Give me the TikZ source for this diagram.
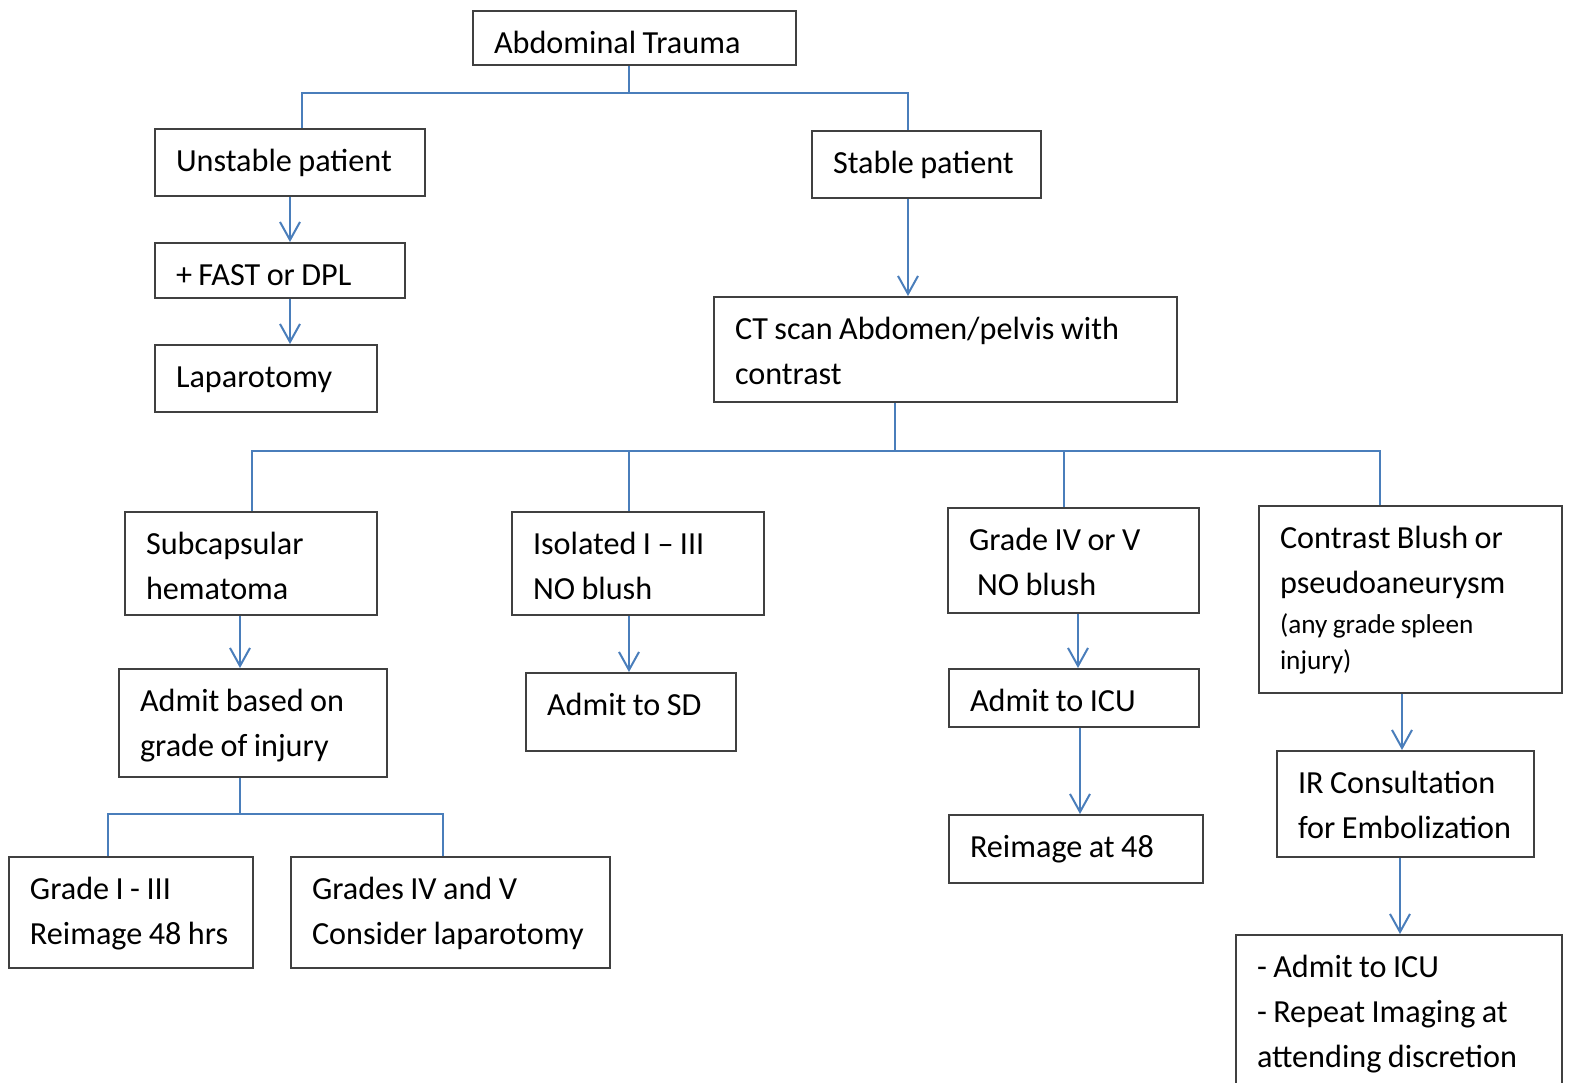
\documentclass[tikz,border=0pt]{standalone}
\usepackage{fontspec}
\setmainfont{Carlito}
\usetikzlibrary{arrows.meta}
\definecolor{boxgray}{HTML}{404040}
\definecolor{linkblue}{HTML}{4A7EBB}
\newcommand\lne[1]{\mbox{#1}}
\newcommand\tightsp{\spaceskip=0.2em plus 0.1em minus 0.03em\relax}
\newcommand\bx[6]{%
 \pgfmathsetmacro\bw{(#4-#2)/2}%
 \pgfmathsetmacro\bh{(#5-#3)/2}%
 \pgfmathsetmacro\tw{\bw-21}%
 \node[box] (#1) at (#2,#3) {\parbox[c][\bh pt][t]{\tw pt}{\tightsp\rule{0pt}{21pt}#6}};}
\tikzset{
 box/.style={draw=boxgray, line width=1pt, anchor=north west, inner xsep=10.5pt, inner ysep=0pt, font=\fontsize{16.1}{22.5}\selectfont},
 conn/.style={draw=linkblue, line width=1pt},
 arr/.style={conn, -{Straight Barb[length=9pt,width=10pt]}}
}
\begin{document}
\begin{tikzpicture}[x=0.5pt,y=-0.5pt]
\useasboundingbox (0,0) rectangle (1571,1083);
\bx{abd}{472}{10}{795}{64}{\lne{Abdominal Trauma}}
\bx{unst}{154}{128}{424}{195}{\lne{Unstable patient}}
\bx{stab}{811}{130}{1040}{197}{\lne{Stable patient}}
\bx{fast}{154}{242}{404}{297}{\lne{+ FAST or DPL}}
\bx{lap}{154}{344}{376}{411}{\lne{Laparotomy}}
\bx{ct}{713}{296}{1176}{401}{\lne{CT scan Abdomen/pelvis with}\\\lne{contrast}}
\bx{sub}{124}{511}{376}{614}{\lne{Subcapsular}\\\lne{hematoma}}
\bx{iso}{511}{511}{763}{614}{\lne{Isolated I – III}\\\lne{NO blush}}
\bx{gfv}{947}{507}{1198}{612}{\lne{Grade IV or V}\\\lne{\hspace*{4pt}NO blush}}
\bx{blush}{1258}{505}{1561}{692}{\lne{Contrast Blush or}\\\lne{pseudoaneurysm}\par\vspace{2pt}\fontsize{13.6}{18}\selectfont\tightsp\lne{(any grade spleen}\\\lne{injury)}}
\bx{adm}{118}{668}{386}{776}{\lne{Admit based on}\\\lne{grade of injury}}
\bx{sd}{525}{672}{735}{750}{\lne{Admit to SD}}
\bx{icu}{948}{668}{1198}{726}{\lne{Admit to ICU}}
\bx{reim}{948}{814}{1202}{882}{\lne{Reimage at 48}}
\bx{ir}{1276}{750}{1533}{856}{\lne{IR Consultation}\\\lne{for Embolization}}
\bx{got}{8}{856}{252}{967}{\lne{Grade I - III}\\\lne{Reimage 48 hrs}}
\bx{gfvb}{290}{856}{609}{967}{\lne{Grades IV and V}\\\lne{Consider laparotomy}}
\bx{fin}{1235}{934}{1561}{1092}{\lne{- Admit to ICU}\\\lne{- Repeat Imaging at}\\\lne{attending discretion}}
% top tree
\coordinate (t1) at (629,93);
\coordinate (t1l) at (302,93);
\coordinate (t1r) at (908,93);
\draw[conn] (abd.south -| t1) -- (t1);
\draw[conn] (t1l |- unst.north) -- (t1l) -- (t1r) -- (t1r |- stab.north);
\draw[arr] (unst.south -| 290,0) -- (fast.north -| 290,0);
\draw[arr] (fast.south -| 290,0) -- (lap.north -| 290,0);
\draw[arr] (stab.south -| 908,0) -- (ct.north -| 908,0);
% CT tree
\coordinate (t2) at (895,451);
\coordinate (t2l) at (252,451);
\coordinate (t2r) at (1380,451);
\draw[conn] (ct.south -| t2) -- (t2);
\draw[conn] (t2l |- sub.north) -- (t2l) -- (t2r) -- (t2r |- blush.north);
\draw[conn] (iso.north -| 629,0) -- (629,0 |- t2);
\draw[conn] (gfv.north -| 1064,0) -- (1064,0 |- t2);
\draw[arr] (sub.south -| 240,0) -- (adm.north -| 240,0);
\draw[arr] (iso.south -| 629,0) -- (sd.north -| 629,0);
\draw[arr] (gfv.south -| 1078,0) -- (icu.north -| 1078,0);
\draw[arr] (icu.south -| 1080,0) -- (reim.north -| 1080,0);
\draw[arr] (blush.south -| 1402,0) -- (ir.north -| 1402,0);
\draw[arr] (ir.south -| 1400,0) -- (fin.north -| 1400,0);
% admit tree
\coordinate (t3) at (240,814);
\coordinate (t3l) at (108,814);
\coordinate (t3r) at (443,814);
\draw[conn] (adm.south -| t3) -- (t3);
\draw[conn] (t3l |- got.north) -- (t3l) -- (t3r) -- (t3r |- gfvb.north);
\end{tikzpicture}
\end{document}
